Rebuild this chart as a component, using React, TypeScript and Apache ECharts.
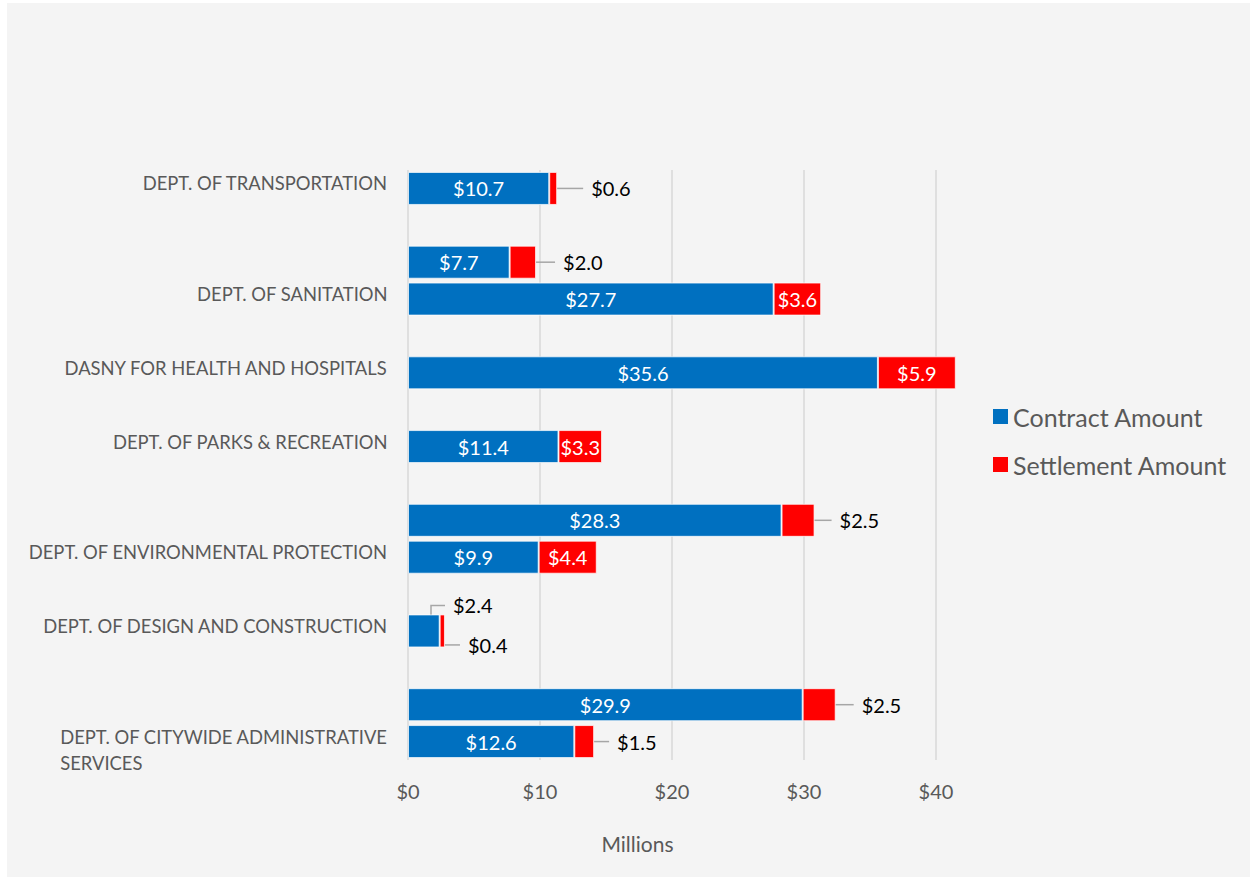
import React, { useEffect, useRef } from "react";
import * as echarts from "echarts";

// One category slot per bar row (empty strings are spacer rows between departments)
const categories: string[] = [
  "DEPT. OF TRANSPORTATION",
  "",
  "",
  "DEPT. OF SANITATION",
  "",
  "DASNY FOR HEALTH AND HOSPITALS",
  "",
  "DEPT. OF PARKS & RECREATION",
  "",
  "",
  "DEPT. OF ENVIRONMENTAL PROTECTION",
  "",
  "DEPT. OF DESIGN AND CONSTRUCTION",
  "",
  "",
  "DEPT. OF CITYWIDE ADMINISTRATIVE\nSERVICES",
];

const contractAmount: (number | null)[] = [
  10.7, null, 7.7, 27.7, null, 35.6, null, 11.4, null, 28.3, 9.9, null, 2.4, null, 29.9, 12.6,
];
const settlementAmount: (number | null)[] = [
  0.6, null, 2.0, 3.6, null, 5.9, null, 3.3, null, 2.5, 4.4, null, 0.4, null, 2.5, 1.5,
];

const xTicks = [0, 10, 20, 30, 40];
const seriesNames = ["Contract Amount", "Settlement Amount"];

// styling
const BLUE = "#0070C0";
const RED = "#FF0000";
const GREY_TEXT = "#595959";
const LEADER_COLOR = "#a6a6a6";
const FONT = "Lato";
const LEADER = { color: LEADER_COLOR, width: 1.5 };
const CAT_FONT = 18.4;

// labels drawn to the right of the bar end with a short leader (leader length in px)
const settlementLeaderLen: Record<number, number> = { 0: 26, 2: 19, 9: 17, 14: 18, 15: 15 };

const fmt = (v: number) => "$" + v.toFixed(1);

export default function App() {
  const ref = useRef<HTMLDivElement>(null);

  useEffect(() => {
    if (!ref.current) return;
    const chart = echarts.init(ref.current, null, { renderer: "svg" });

    const insideLabel = {
      show: true,
      position: "inside",
      color: "#ffffff",
      fontSize: 20,
      fontFamily: FONT,
      formatter: (p: any) => fmt(p.value),
    };

    const outsideTextStyle = { color: "#000000", fontSize: 20, fontFamily: FONT };

    const elbowLabel = (pos: number[], v: number, len2: number) => ({
      value: v,
      label: {
        position: pos,
        align: "left",
        verticalAlign: "middle",
        formatter: () => `{s|}{t|${fmt(v)}}`,
        rich: { s: { width: 8, height: 1 }, t: outsideTextStyle },
      },
      labelLine: { show: true, length2: len2, lineStyle: LEADER },
    });

    const contractData = contractAmount.map((v, i) => {
      if (v == null) return null;
      if (i === 12) return elbowLabel([37, -9], v, 14);
      return v;
    });

    const settlementData = settlementAmount.map((v, i) => {
      if (v == null) return null;
      const len = settlementLeaderLen[i];
      if (len != null) {
        return {
          value: v,
          label: {
            position: "right",
            distance: 0,
            formatter: () => `{l|}{t|${fmt(v)}}`,
            rich: {
              l: { width: len, height: 1.5, backgroundColor: LEADER_COLOR },
              t: { ...outsideTextStyle, padding: [0, 0, 0, 8] },
            },
          },
        };
      }
      if (i === 12) return elbowLabel([20.3, 30.5], v, 8);
      return v;
    });

    const option: any = {
      animation: false,
      backgroundColor: "#F4F4F4",
      textStyle: { fontFamily: FONT },
      grid: {
        left: 401,
        top: 167,
        width: 528,
        height: 590,
        containLabel: false,
        outerBoundsMode: "none",
      },
      legend: {
        data: seriesNames,
        orient: "vertical",
        left: 981,
        top: 396,
        icon: "rect",
        itemWidth: 15,
        itemHeight: 15,
        itemGap: 23,
        itemStyle: { borderWidth: 0 },
        textStyle: { fontSize: 25, color: GREY_TEXT, fontFamily: FONT },
      },
      xAxis: {
        type: "value",
        min: xTicks[0],
        max: xTicks[xTicks.length - 1],
        interval: 10,
        axisLine: { show: false },
        axisTick: { show: false },
        splitLine: { show: true, lineStyle: { color: "#d9d9d9", width: 1.5 } },
        axisLabel: {
          margin: 21,
          fontSize: 20,
          color: GREY_TEXT,
          fontFamily: FONT,
          formatter: (v: number) => "$" + v,
        },
      },
      yAxis: {
        type: "category",
        inverse: true,
        data: categories,
        axisLine: { show: false },
        axisTick: { show: false },
        splitLine: { show: false },
        axisLabel: {
          interval: 0,
          margin: 20,
          color: GREY_TEXT,
          fontSize: CAT_FONT,
          fontFamily: FONT,
          formatter: (v: string) => {
            if (!v) return "";
            return v.indexOf("\n") >= 0 ? `{b|${v}}` : `{a|${v}}`;
          },
          rich: {
            a: {
              fontSize: CAT_FONT,
              color: GREY_TEXT,
              fontFamily: FONT,
              lineHeight: 18,
              align: "left",
              padding: [0, 0, 10, 0],
            },
            b: {
              fontSize: CAT_FONT,
              color: GREY_TEXT,
              fontFamily: FONT,
              lineHeight: 26,
              align: "left",
              padding: [17, 0, 0, 0],
            },
          },
        },
      },
      graphic: [
        {
          type: "text",
          x: 630.5,
          y: 840,
          style: {
            text: "Millions",
            align: "center",
            verticalAlign: "middle",
            fontSize: 21,
            fill: GREY_TEXT,
            fontFamily: FONT,
          },
        },
      ],
      series: [
        {
          name: seriesNames[0],
          type: "bar",
          stack: "total",
          barWidth: 33,
          clip: false,
          itemStyle: { color: BLUE, borderColor: "rgba(255,255,255,0.7)", borderWidth: 1 },
          label: insideLabel,
          data: contractData,
        },
        {
          name: seriesNames[1],
          type: "bar",
          stack: "total",
          barWidth: 33,
          clip: false,
          itemStyle: { color: RED, borderColor: "rgba(255,255,255,0.7)", borderWidth: 1 },
          label: insideLabel,
          data: settlementData,
        },
      ],
    };

    chart.setOption(option);
    return () => chart.dispose();
  }, []);

  return (
    <div
      ref={ref}
      style={{ position: "absolute", left: 7, top: 3, width: 1243, height: 874 }}
    />
  );
}
